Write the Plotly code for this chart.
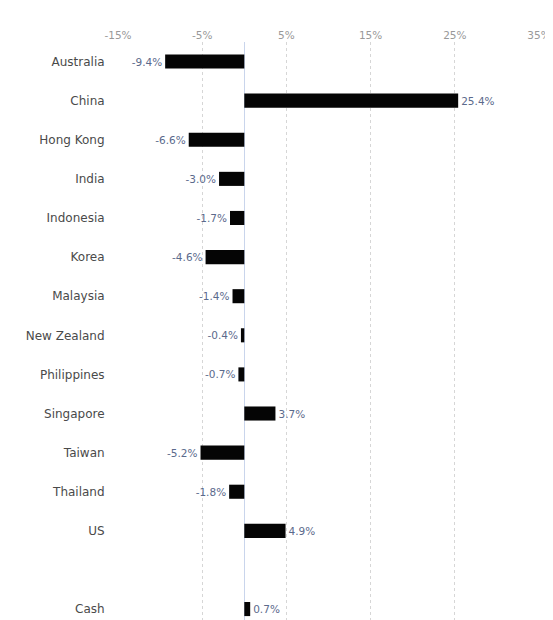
import plotly.graph_objects as go

countries = ["Australia", "China", "Hong Kong", "India", "Indonesia", "Korea",
             "Malaysia", "New Zealand", "Philippines", "Singapore", "Taiwan",
             "Thailand", "US", " ", "Cash"]
weights = [-9.4, 25.4, -6.6, -3.0, -1.7, -4.6, -1.4, -0.4, -0.7, 3.7, -5.2,
           -1.8, 4.9, None, 0.7]
tick_vals = [-15, -5, 5, 15, 25, 35]
tick_text = ["-15%", "-5%", "5%", "15%", "25%", "35%"]

labels = ["" if w is None else f"{w:.1f}%" for w in weights]

fig = go.Figure()
fig.add_trace(
    go.Bar(
        x=weights,
        y=countries,
        orientation="h",
        marker=dict(color="#050505", line=dict(width=0)),
        width=0.36,
        text=labels,
        textposition="outside",
        cliponaxis=False,
        textfont=dict(family="DejaVu Sans", size=10.5, color="#5b6a8c"),
        hoverinfo="skip",
    )
)

# page body adds 8px round the figure
fig.update_layout(
    width=545,
    height=612,
    margin=dict(l=110, r=14, t=34, b=0),
    plot_bgcolor="white",
    paper_bgcolor="white",
    showlegend=False,
    font=dict(family="DejaVu Sans"),
    xaxis=dict(
        side="top",
        range=[-15, 35],
        tickvals=tick_vals,
        ticktext=tick_text,
        tickfont=dict(size=10.5, color="#999999"),
        showgrid=True,
        gridcolor="#d6d6d6",
        griddash="dot",
        gridwidth=1,
        zeroline=True,
        zerolinecolor="#c9d5ec",
        zerolinewidth=1,
        showline=False,
        ticks="",
    ),
    yaxis=dict(
        type="category",
        categoryorder="array",
        categoryarray=countries,
        range=[14.28, -0.5],
        tickfont=dict(size=12, color="#4a4a4a"),
        showgrid=False,
        zeroline=False,
        ticks="outside",
        ticklen=10,
        tickcolor="white",
    ),
)

fig.write_html("out.html")
